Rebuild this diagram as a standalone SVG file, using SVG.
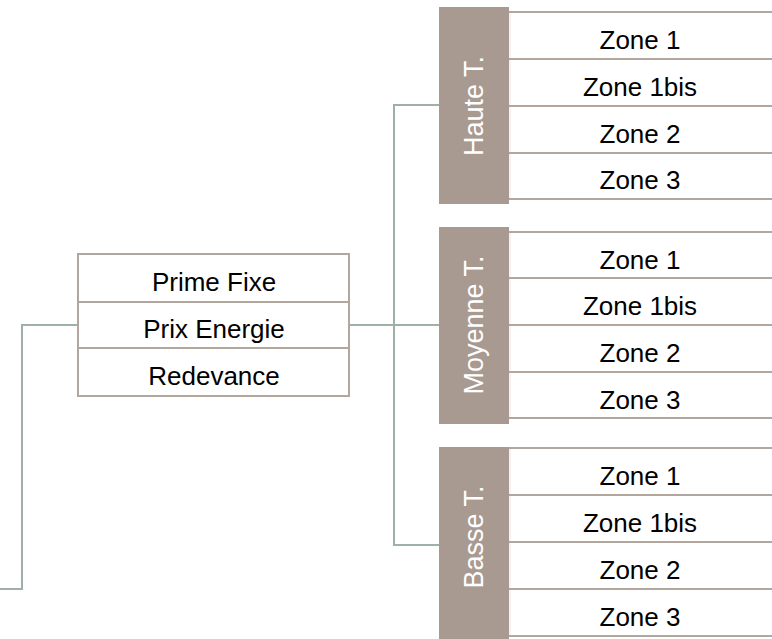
<svg xmlns="http://www.w3.org/2000/svg" width="772" height="639" viewBox="0 0 772 639">
<style>
.t{font-family:"Liberation Sans",Arial,sans-serif;font-size:26px;fill:#000;text-anchor:middle}
.v{font-family:"Liberation Sans",Arial,sans-serif;font-size:27px;fill:#fff;text-anchor:middle}
.hdr{fill:#a89a90}
.zl{stroke:#b3a69d;stroke-width:2;fill:none}
.sep{stroke:#ece7e3;stroke-width:1}
.cell{fill:#fff;stroke:#b3a69d;stroke-width:2}
.con{stroke:#9fb1a7;stroke-width:2;fill:none}
</style>
<rect width="772" height="639" fill="#fff"/>
<g id="connectors">
<path class="con" d="M0 589 H22 V325 H78"/>
<path class="con" d="M349 325 H439"/>
<path class="con" d="M439 105 H394 V545 H439"/>
</g>
<g id="table">
<rect class="cell" x="78" y="254" width="271" height="48"/>
<rect class="cell" x="78" y="302" width="271" height="46"/>
<rect class="cell" x="78" y="348" width="271" height="48"/>
<text class="t" x="214" y="291">Prime Fixe</text>
<text class="t" x="214" y="338">Prix Energie</text>
<text class="t" x="214" y="385">Redevance</text>
</g>
<g id="haute">
<rect class="hdr" x="439" y="7" width="70" height="197"/>
<text class="v" transform="translate(483,106) rotate(-90)">Haute T.</text>
<line class="sep" x1="510" y1="12" x2="510" y2="199"/>
<path class="zl" d="M509 12 H772 M509 59 H772 M509 106 H772 M509 153 H772 M509 199 H772"/>
<text class="t" x="640" y="49">Zone 1</text>
<text class="t" x="640" y="96">Zone 1bis</text>
<text class="t" x="640" y="143">Zone 2</text>
<text class="t" x="640" y="189">Zone 3</text>
</g>
<g id="moyenne">
<rect class="hdr" x="439" y="227" width="70" height="197"/>
<text class="v" transform="translate(483,325) rotate(-90)">Moyenne T.</text>
<line class="sep" x1="510" y1="232" x2="510" y2="418"/>
<path class="zl" d="M509 232 H772 M509 278 H772 M509 325 H772 M509 372 H772 M509 418 H772"/>
<text class="t" x="640" y="269">Zone 1</text>
<text class="t" x="640" y="315">Zone 1bis</text>
<text class="t" x="640" y="362">Zone 2</text>
<text class="t" x="640" y="409">Zone 3</text>
</g>
<g id="basse">
<rect class="hdr" x="439" y="447" width="70" height="192"/>
<text class="v" transform="translate(483,537) rotate(-90)">Basse T.</text>
<line class="sep" x1="510" y1="448" x2="510" y2="636"/>
<path class="zl" d="M509 448 H772 M509 495 H772 M509 542 H772 M509 589 H772 M509 636 H772"/>
<text class="t" x="640" y="485">Zone 1</text>
<text class="t" x="640" y="532">Zone 1bis</text>
<text class="t" x="640" y="579">Zone 2</text>
<text class="t" x="640" y="626">Zone 3</text>
</g>
</svg>
